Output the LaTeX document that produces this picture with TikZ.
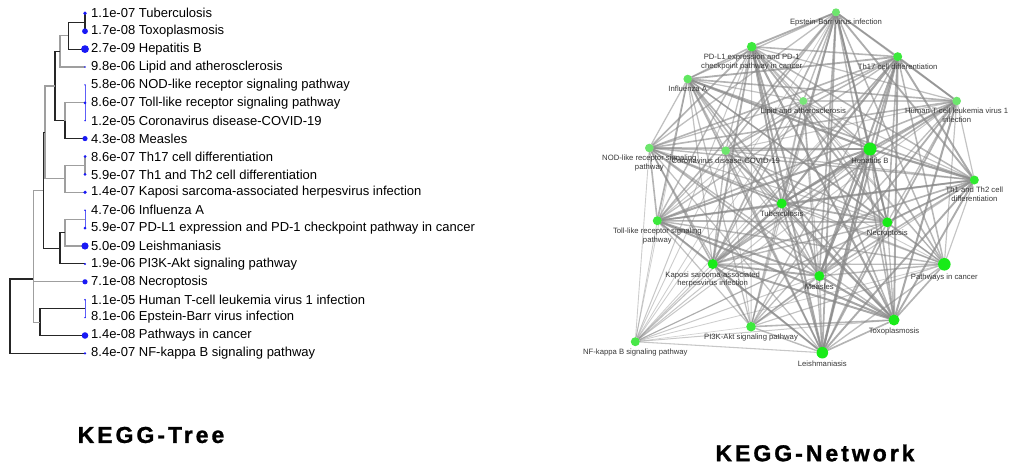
\documentclass[tikz,border=0pt]{standalone}
\usepackage{fontspec}
\setmainfont{Liberation Sans}
\newfontfamily\headfont{Liberation Sans Bold}[LetterSpace=13, FakeBold=1.2]
\usepackage{tikz}
\usetikzlibrary{positioning}
\pgfdeclarelayer{bg}
\pgfsetlayers{bg,main}
\definecolor{treeblue}{RGB}{25,25,245}
\definecolor{netbright}{RGB}{25,235,25}
\definecolor{netpale}{RGB}{145,228,145}
\definecolor{netgray}{RGB}{135,135,135}
\definecolor{labelgray}{RGB}{55,55,55}
% edge weight of each network node (same order as n1..n20)
\def\netweight{{0.9,0.95,1,0.55,0.7,0.8,0.6,0.85,0.85,0.8,0.8,0.75,0.8,0.85,0.55,0.75,0.75,0.8,0.6,0.35}}

\begin{document}
\begin{tikzpicture}[x=1pt, y=-1pt,
  blk/.style={black!85, line width=1.1pt},
  gry/.style={gray!75, line width=1.1pt},
  tipline/.style={treeblue!70, line width=0.8pt},
  tdot/.style={circle, fill=treeblue, inner sep=0pt},
  tlabel/.style={anchor=west, inner sep=0pt, font=\fontsize{13}{15}\selectfont},
  netnode/.style={circle, inner sep=0pt},
  netlabel/.style={font=\fontsize{7.7}{8.4}\selectfont, text=labelgray, align=center, inner sep=1pt},
  netedge/.style={netgray, line cap=round},
  kegghead/.style={font=\headfont\fontsize{23}{27}\selectfont}]
  \useasboundingbox (0,0) rectangle (1014,468);

  % tree leaves
  \foreach \k/\rad/\txt in {
    1/1.8/1.1e-07 Tuberculosis,
    2/2.9/1.7e-08 Toxoplasmosis,
    3/3.9/2.7e-09 Hepatitis B,
    4/0.8/9.8e-06 Lipid and atherosclerosis,
    5/0.8/5.8e-06 NOD-like receptor signaling pathway,
    6/1.5/8.6e-07 Toll-like receptor signaling pathway,
    7/0.8/1.2e-05 Coronavirus disease-COVID-19,
    8/2.6/4.3e-08 Measles,
    9/1.5/8.6e-07 Th17 cell differentiation,
    10/1.5/5.9e-07 Th1 and Th2 cell differentiation,
    11/1.8/1.4e-07 Kaposi sarcoma-associated herpesvirus infection,
    12/0.9/4.7e-06 Influenza A,
    13/1.5/5.9e-07 PD-L1 expression and PD-1 checkpoint pathway in cancer,
    14/3.6/5.0e-09 Leishmaniasis,
    15/1.1/1.9e-06 PI3K-Akt signaling pathway,
    16/2.6/7.1e-08 Necroptosis,
    17/0.8/1.1e-05 Human T-cell leukemia virus 1 infection,
    18/0.8/8.1e-06 Epstein-Barr virus infection,
    19/3.3/1.4e-08 Pathways in cancer,
    20/1.3/8.4e-07 NF-kappa B signaling pathway}{
    \node[tdot, minimum size=2*\rad] (t\k) at (85,{13.3+17.9*(\k-1)}) {};
    \node[tlabel] (l\k) at (91,{13.3+17.9*(\k-1)}) {\txt};
  }

  % tree branches
  \begin{pgfonlayer}{bg}
    \coordinate (a) at (85,22.25);
    \coordinate (b) at (68.3,35.7);
    \coordinate (c) at (60,51.3);
    \coordinate (d) at (85,102.8);
    \coordinate (e) at (65,120.7);
    \coordinate (f) at (55,86);
    \coordinate (g) at (85,165.45);
    \coordinate (h) at (65,178.9);
    \coordinate (i) at (45,132.4);
    \coordinate (j) at (85,219.15);
    \coordinate (k) at (65,232.6);
    \coordinate (l) at (60,248.2);
    \coordinate (m) at (43.3,190.3);
    \coordinate (n1) at (33.3,236);
    \coordinate (p) at (85,308.65);
    \coordinate (o) at (40,322.1);
    \coordinate (n2) at (33.3,279);
    \coordinate (root) at (10,316.2);
    \draw[blk] (a) |- (t1.center) (a) |- (t2.center);
    \draw[blk] (b) |- (a) (b) |- (t3.center);
    \draw[gry] (c) |- (b) (c) |- (t4.center);
    \draw[blk] (f) |- (c) (f) |- (e);
    \draw[tipline] (d) |- (t5.center) (d) |- (t7.center);
    \draw[gry] (e) |- (d);
    \draw[blk] (e) |- (t8.center);
    \draw[gry] (g) |- (t9.center) (g) |- (t10.center);
    \draw[gry] (h) |- (g) (h) |- (t11.center);
    \draw[gry] (i) |- (f) (i) |- (h);
    \draw[tipline] (j) |- (t12.center) (j) |- (t13.center);
    \draw[gry] (k) |- (j) (k) |- (t14.center);
    \draw[blk] (l) |- (k) (l) |- (t15.center);
    \draw[blk] (m) |- (i) (m) |- (l);
    \draw[gry] (n1) |- (m) (n1) |- (t16.center);
    \draw[tipline] (p) |- (t17.center) (p) |- (t18.center);
    \draw[blk] (o) |- (p) (o) |- (t19.center);
    \draw[gry] (n2) |- (n1) (n2) |- (o);
    \draw[blk] (root) |- (n2) (root) |- (t20.center);
  \end{pgfonlayer}

  % network nodes
  \foreach \k/\px/\py/\rad/\mix/\txt in {
    1/781.7/203.5/5/100/Tuberculosis,
    2/894/320/5.5/100/Toxoplasmosis,
    3/870/149/6.5/100/Hepatitis B,
    4/803.3/101/4/20/Lipid and atherosclerosis,
    5/649.3/148/4.3/30/NOD-like receptor signaling\\pathway,
    6/657.3/220.7/4.5/70/Toll-like receptor signaling\\pathway,
    7/725.7/150.7/4.3/30/Coronavirus disease-COVID-19,
    8/819.3/276/5/100/Measles,
    9/897.7/56.7/4.5/70/Th17 cell differentiation,
    10/974.3/180/4.5/80/Th1 and Th2 cell\\differentiation,
    11/712.7/264/5/100/Kaposi sarcoma-associated\\herpesvirus infection,
    12/687.7/79/4.3/40/Influenza A,
    13/751.7/46.7/4.8/70/PD-L1 expression and PD-1\\checkpoint pathway in cancer,
    14/822.3/352.7/5.8/100/Leishmaniasis,
    15/751/326.7/4.8/70/PI3K-Akt signaling pathway,
    16/887.3/222.3/5/100/Necroptosis,
    17/956.7/101/4.3/30/Human T-cell leukemia virus 1\\infection,
    18/836/12.3/4/30/Epstein-Barr virus infection,
    19/944.3/264.3/6.3/100/Pathways in cancer,
    20/635.3/341.7/4.5/60/NF-kappa B signaling pathway}{
    \node[netnode, fill=netbright!\mix!netpale, minimum size=2*\rad,
          label={[netlabel, label distance=1.5pt]below:{\txt}}] (n\k) at (\px,\py) {};
  }

  % network edges
  \begin{pgfonlayer}{bg}
    \foreach \i in {1,...,19}{
      \pgfmathtruncatemacro{\jfirst}{\i+1}
      \foreach \j in {\jfirst,...,20}{
        \pgfmathsetmacro{\ww}{\netweight[\i-1]*\netweight[\j-1]*(0.55+0.45*abs(sin(57*\i+83*\j)))}
        \pgfmathsetmacro{\lw}{0.45+2.2*\ww}
        \pgfmathsetmacro{\op}{0.3+0.6*\ww}
        \draw[netedge, line width=\lw pt, draw opacity=\op] (n\i) -- (n\j);
      }
    }
  \end{pgfonlayer}

  % titles
  \node[kegghead] (treetitle) at (151,435) {KEGG-Tree};
  \node[kegghead] (nettitle) at (815,453) {KEGG-Network};
\end{tikzpicture}
\end{document}
